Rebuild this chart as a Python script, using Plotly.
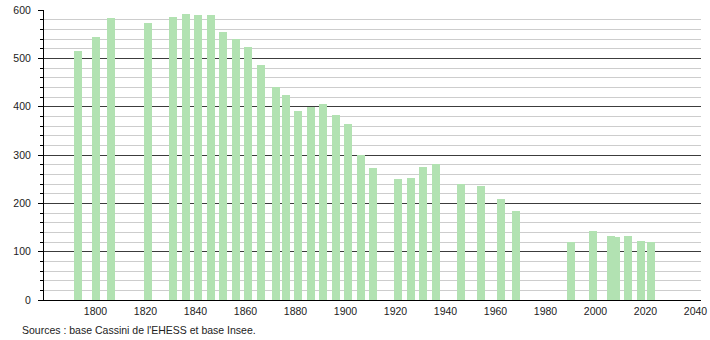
import plotly.graph_objects as go

years = [1793, 1800, 1806, 1821, 1831, 1836, 1841, 1846, 1851, 1856, 1861, 1866,
         1872, 1876, 1881, 1886, 1891, 1896, 1901, 1906, 1911, 1921, 1926, 1931,
         1936, 1946, 1954, 1962, 1968, 1990, 1999, 2006, 2008, 2013, 2018, 2022]
population = [516, 545, 584, 574, 586, 592, 590, 590, 555, 540, 524, 487,
              441, 425, 392, 399, 406, 383, 365, 300, 274, 251, 253, 276,
              282, 240, 236, 209, 184, 120, 142, 133, 130, 133, 122, 120]
x_ticks = [1800, 1820, 1840, 1860, 1880, 1900, 1920, 1940, 1960, 1980, 2000, 2020, 2040]
y_tick_step = 100
y_minor_step = 20
source_text = "Sources : base Cassini de l'EHESS et base Insee."

FONT = "Liberation Sans, Arial, sans-serif"

fig = go.Figure()
fig.add_trace(go.Bar(
    x=years, y=population, width=3.2,
    marker=dict(color="rgb(178,226,178)", line=dict(width=0)),
    hoverinfo="x+y",
))

fig.update_layout(
    width=710, height=340,
    margin=dict(l=44, r=9, t=10, b=40),
    paper_bgcolor="white", plot_bgcolor="white",
    showlegend=False,
    font=dict(family=FONT, size=10.5, color="#222"),
    bargap=0,
    xaxis=dict(
        range=[1779.4, 2042.2], automargin=False,
        tickmode="array", tickvals=x_ticks, ticktext=[str(v) for v in x_ticks],
        showgrid=False, zeroline=False,
        showline=True, linecolor="black", linewidth=1,
        ticks="", ticklabelstandoff=1,
        tickfont=dict(family=FONT, size=10.5, color="#222"),
    ),
    yaxis=dict(
        range=[0, 600], automargin=False,
        tickmode="linear", tick0=0, dtick=y_tick_step,
        showgrid=True, gridcolor="rgb(60,60,60)", gridwidth=1,
        zeroline=False,
        showline=True, linecolor="black", linewidth=1,
        ticks="outside", ticklen=5, tickcolor="black",
        ticklabelstandoff=5,
        tickfont=dict(family=FONT, size=10.5, color="#222"),
        minor=dict(tick0=0, dtick=y_minor_step, showgrid=True,
                   gridcolor="rgb(205,205,205)", gridwidth=1,
                   ticks="outside", ticklen=3, tickcolor="black"),
    ),
    annotations=[dict(
        text=source_text, xref="paper", yref="paper",
        x=(20 - 44) / (710 - 44 - 9), xanchor="left",
        y=-(330 - 300) / 290, yanchor="middle",
        showarrow=False, font=dict(family=FONT, size=10.5, color="#222"),
    )],
)

fig.write_html("out.html")
